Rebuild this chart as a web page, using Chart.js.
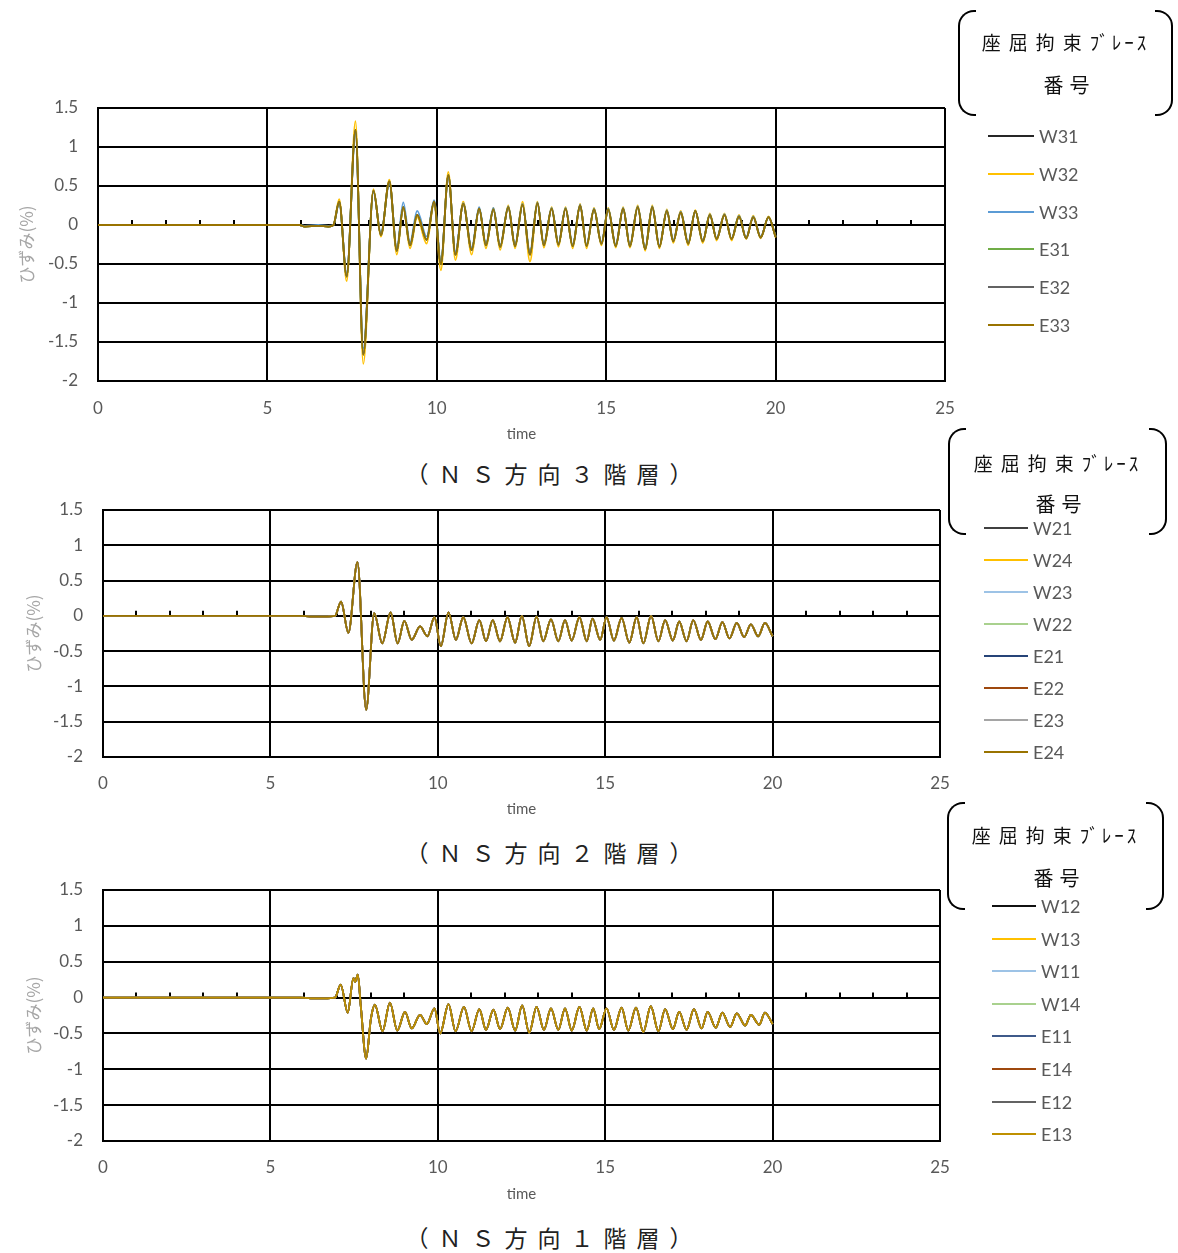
<!DOCTYPE html>
<html><head><meta charset="utf-8">
<script src="https://cdn.jsdelivr.net/npm/chart.js@4.4.1/dist/chart.umd.min.js"></script>
<style>
html,body{margin:0;padding:0;background:#fff;}
body{width:1178px;height:1253px;position:relative;overflow:hidden;font-family:Lato,'Noto Sans CJK JP',sans-serif;}
canvas{position:absolute;left:0;}
.brL,.brR{position:absolute;box-sizing:border-box;border:2px solid #000;}
.brL{border-right:none;border-radius:16px 0 0 16px;}
.brR{border-left:none;border-radius:0 16px 16px 0;}
.bt{position:absolute;text-align:center;font-family:'Noto Sans CJK JP';color:#111;white-space:nowrap;}
.sw{position:absolute;height:2px;}
.lt{position:absolute;font-family:Lato,sans-serif;font-size:18px;line-height:22px;color:#595959;white-space:nowrap;}
.cap{position:absolute;left:0;width:1108px;text-align:center;font-family:'Noto Sans CJK JP';font-size:23px;line-height:30px;letter-spacing:10px;color:#222;white-space:nowrap;}
</style></head><body>
<canvas id="c3"></canvas>
<canvas id="c2"></canvas>
<canvas id="c1"></canvas>
<div id="overlay"></div>
<script>
// ---------------- DATA ----------------
const xTickStep = 5;
const minorTickTimes = [1,2,3,4,6,7,8,9,11,12,13,14,16,17,18,19,21,22,23,24];

// NS 3F (3階層)
const time3F = [0,5.95,6.1,6.5,6.8,6.95,7.12,7.34,7.60,7.83,8.13,8.35,8.60,8.82,9.01,9.21,9.42,9.70,9.92,10.12,10.34,10.55,10.78,11.03,11.25,11.45,11.67,11.87,12.11,12.31,12.53,12.75,12.97,13.16,13.39,13.59,13.80,14.01,14.23,14.42,14.64,14.86,15.06,15.28,15.50,15.70,15.93,16.15,16.36,16.57,16.79,16.98,17.20,17.42,17.63,17.85,18.06,18.26,18.49,18.70,18.92,19.13,19.34,19.56,19.79,20.0];
const strain3F_main = [0,0,-0.02,-0.01,-0.02,0,
 0.30,-0.66,1.22,-1.66,0.44,-0.13,0.56,-0.33,0.23,-0.26,
 0.13,-0.19,0.30,-0.50,0.64,-0.38,0.27,-0.32,0.21,-0.26,
 0.20,-0.28,0.23,-0.27,0.26,-0.38,0.28,-0.26,0.21,-0.25,
 0.21,-0.27,0.25,-0.27,0.20,-0.24,0.20,-0.27,0.21,-0.27,
 0.23,-0.31,0.23,-0.28,0.18,-0.21,0.16,-0.24,0.18,-0.21,
 0.13,-0.18,0.13,-0.18,0.11,-0.17,0.10,-0.16,0.10,-0.15];
const strain3F_W32 = [0,0,-0.02,-0.01,-0.02,0,
 0.33,-0.72,1.33,-1.78,0.46,-0.15,0.58,-0.38,0.22,-0.30,
 0.10,-0.24,0.28,-0.58,0.68,-0.45,0.30,-0.38,0.22,-0.30,
 0.22,-0.32,0.25,-0.30,0.30,-0.47,0.30,-0.29,0.23,-0.28,
 0.23,-0.30,0.27,-0.30,0.22,-0.26,0.22,-0.29,0.23,-0.29,
 0.25,-0.33,0.25,-0.30,0.20,-0.23,0.18,-0.26,0.19,-0.23,
 0.15,-0.20,0.15,-0.20,0.13,-0.18,0.12,-0.17,0.11,-0.16];
const strain3F_W33 = [0,0,-0.01,0,-0.01,0,
 0.28,-0.62,1.17,-1.58,0.42,-0.10,0.53,-0.29,0.29,-0.22,
 0.18,-0.15,0.32,-0.46,0.61,-0.34,0.28,-0.29,0.23,-0.24,
 0.22,-0.26,0.24,-0.25,0.27,-0.34,0.29,-0.24,0.22,-0.23,
 0.22,-0.25,0.26,-0.25,0.21,-0.22,0.21,-0.25,0.22,-0.25,
 0.24,-0.29,0.24,-0.26,0.19,-0.19,0.17,-0.22,0.18,-0.20,
 0.14,-0.17,0.14,-0.17,0.12,-0.16,0.11,-0.15,0.10,-0.14];
const names3F = ['W31','W32','W33','E31','E32','E33'];
const colors3F = ['#262626','#FFC000','#5B9BD5','#70AD47','#636363','#997300'];

// NS 2F (2階層)
const time2F = [0,5.9,6.2,6.6,6.93,7.11,7.33,7.60,7.86,8.10,8.34,8.59,8.80,9.00,9.22,9.47,9.69,9.90,10.09,10.32,10.54,10.76,11.01,11.24,11.44,11.64,11.86,12.08,12.31,12.51,12.73,12.95,13.15,13.38,13.60,13.80,14.00,14.23,14.45,14.62,14.85,15.04,15.26,15.49,15.72,15.94,16.14,16.37,16.59,16.79,17.02,17.21,17.43,17.63,17.86,18.06,18.29,18.50,18.71,18.93,19.15,19.35,19.57,19.77,20.0];
const strain2F = [0,0,-0.01,-0.01,0,
 0.20,-0.24,0.76,-1.33,0.04,-0.39,0.05,-0.39,-0.07,-0.34,
 -0.15,-0.29,-0.02,-0.43,0.05,-0.34,-0.02,-0.39,-0.06,-0.36,
 -0.06,-0.36,-0.02,-0.38,0.0,-0.43,-0.01,-0.36,-0.05,-0.36,
 -0.06,-0.35,-0.02,-0.36,-0.04,-0.34,-0.02,-0.35,-0.03,-0.38,
 -0.02,-0.39,0.0,-0.36,-0.06,-0.35,-0.08,-0.36,-0.06,-0.34,
 -0.08,-0.33,-0.09,-0.32,-0.10,-0.30,-0.12,-0.29,-0.10,-0.29];
const names2F = ['W21','W24','W23','W22','E21','E22','E23','E24'];
const colors2F = ['#404040','#FFC000','#9DC3E6','#A9D18E','#264478','#9E480E','#A5A5A5','#997300'];

// NS 1F (1階層)
const time1F = [0,5.9,6.2,6.6,6.93,7.10,7.31,7.48,7.53,7.61,7.70,7.86,8.00,8.12,8.35,8.57,8.79,9.02,9.22,9.47,9.67,9.90,10.07,10.32,10.53,10.78,11.01,11.24,11.44,11.66,11.86,12.09,12.31,12.52,12.73,12.95,13.17,13.38,13.60,13.80,14.00,14.23,14.45,14.64,14.82,15.04,15.26,15.49,15.69,15.92,16.14,16.36,16.59,16.79,17.02,17.21,17.43,17.65,17.88,18.06,18.30,18.50,18.73,18.93,19.18,19.35,19.60,19.77,20.0];
const strain1F = [0,0,-0.01,-0.01,0,
 0.18,-0.21,0.27,0.22,0.32,-0.12,-0.85,-0.30,-0.10,
 -0.47,-0.07,-0.46,-0.20,-0.43,-0.24,-0.37,-0.15,-0.50,-0.09,
 -0.47,-0.13,-0.47,-0.16,-0.45,-0.17,-0.44,-0.14,-0.46,-0.11,
 -0.49,-0.13,-0.45,-0.15,-0.45,-0.15,-0.46,-0.13,-0.46,-0.15,
 -0.44,-0.15,-0.45,-0.14,-0.46,-0.14,-0.48,-0.12,-0.47,-0.16,
 -0.44,-0.20,-0.45,-0.16,-0.43,-0.20,-0.42,-0.21,-0.41,-0.22,
 -0.39,-0.24,-0.38,-0.21,-0.37];
const names1F = ['W12','W13','W11','W14','E11','E14','E12','E13'];
const colors1F = ['#111111','#FFC000','#9DC3E6','#A9D18E','#3F5A8A','#9E480E','#636363','#BF9000'];

const legendTitleA = '座屈拘束';
const legendTitleB = 'ﾌﾞﾚｰｽ';
const legendTitle2 = '番号';
const captions = ['（ＮＳ方向３階層）','（ＮＳ方向２階層）','（ＮＳ方向１階層）'];
const xTitle = 'time';
const yTitle = 'ひずみ(%)';

// ---------------- LAYOUT ----------------
const panels = [
 {id:'c3', times:time3F, names:names3F, colors:colors3F,
  values:[strain3F_main,strain3F_W32,strain3F_W33,strain3F_main,strain3F_main,strain3F_main],
  plotTop:108, plotBottom:381, plotLeft:98, plotRight:945, xLabelY:408, xTitleY:434, yTitleX:26,
  br:{l:958,t:10,w:215,h:106,t1:42,t2:85}, leg:{lx:988,tx:1039,y0:136,dy:37.8}, capY:473, cap:captions[0]},
 {id:'c2', times:time2F, names:names2F, colors:colors2F,
  values:names2F.map(()=>strain2F),
  plotTop:510, plotBottom:757, plotLeft:103, plotRight:940, xLabelY:783, xTitleY:809, yTitleX:33,
  br:{l:948,t:428,w:219,h:107,t1:463,t2:504}, leg:{lx:984,tx:1033,y0:528,dy:32.0}, capY:852, cap:captions[1]},
 {id:'c1', times:time1F, names:names1F, colors:colors1F,
  values:names1F.map(()=>strain1F),
  plotTop:890, plotBottom:1141, plotLeft:103, plotRight:940, xLabelY:1167, xTitleY:1194, yTitleX:33,
  br:{l:947,t:802,w:217,h:108,t1:835,t2:878}, leg:{lx:992,tx:1041,y0:906,dy:32.6}, capY:1237, cap:captions[2]}
];

const minorTickPlugin = {
  id:'minorTicks',
  beforeDatasetsDraw(chart){
    const {ctx, scales:{x,y}} = chart;
    const y0 = y.getPixelForValue(0);
    ctx.save();
    ctx.strokeStyle = '#000'; ctx.lineWidth = 2;
    minorTickTimes.forEach(t => {
      const px = Math.round(x.getPixelForValue(t));
      ctx.beginPath(); ctx.moveTo(px, y0); ctx.lineTo(px, y0 - 5); ctx.stroke();
    });
    ctx.restore();
  }
};

const CW = 960;
panels.forEach(P => {
  const cv = document.getElementById(P.id);
  const top = P.plotTop - 20;
  const bottom = P.xTitleY + 13;
  cv.width = CW; cv.height = bottom - top;
  cv.style.top = top + 'px';
  cv.style.width = CW + 'px'; cv.style.height = (bottom - top) + 'px';
  const n = P.names.length;
  const datasets = P.names.map((nm, i) => ({
    label: nm,
    data: P.times.map((t, k) => ({x: t, y: P.values[i][k]})),
    borderColor: P.colors[i],
    borderWidth: 1.8,
    pointRadius: 0,
    fill: false,
    tension: 0.4,
    cubicInterpolationMode: 'monotone',
    order: n - i
  }));
  new Chart(cv, {
    type: 'line',
    data: {datasets},
    plugins: [minorTickPlugin],
    options: {
      responsive: false, animation: false, devicePixelRatio: 1,
      layout: {padding: {top: 20, right: CW - P.plotRight, bottom: 0, left: 0}},
      plugins: {legend: {display: false}, tooltip: {enabled: false}},
      scales: {
        x: {
          type: 'linear', min: 0, max: 25,
          afterFit(s){ s.height = bottom - P.plotBottom; s.paddingLeft = 0; s.paddingRight = 0; },
          ticks: {stepSize: xTickStep, padding: P.xLabelY - P.plotBottom - 10, color: '#595959',
                  font: {family: 'Lato', size: 17}, maxRotation: 0, autoSkip: false},
          grid: {color: '#000', lineWidth: 2, drawTicks: false},
          border: {color: '#000', width: 2},
          title: {display: true, text: xTitle, color: '#595959', font: {family: 'Lato', size: 15},
                  padding: {top: 0, bottom: 4}}
        },
        y: {
          type: 'linear', min: -2, max: 1.5,
          afterFit(s){ s.width = P.plotLeft; s.paddingTop = 0; s.paddingBottom = 0; },
          ticks: {stepSize: 0.5, padding: 20, color: '#595959', font: {family: 'Lato', size: 17},
                  callback: v => String(Math.round(v * 10) / 10)},
          grid: {color: '#000', lineWidth: 2, drawTicks: false},
          border: {color: '#000', width: 2},
          title: {display: true, text: yTitle, color: '#A6A6A6', font: {family: 'Noto Sans CJK JP', size: 17},
                  padding: {top: P.yTitleX - 10, bottom: 0}}
        }
      }
    }
  });

  // legend (HTML)
  const ov = document.getElementById('overlay');
  const b = P.br;
  const arm = 18;
  ov.insertAdjacentHTML('beforeend',
    `<div class="brL" style="left:${b.l}px;top:${b.t}px;width:${arm}px;height:${b.h}px"></div>` +
    `<div class="brR" style="left:${b.l + b.w - arm}px;top:${b.t}px;width:${arm}px;height:${b.h}px"></div>` +
    `<div class="bt" style="left:${b.l}px;width:${b.w}px;top:${b.t1 - 15}px;line-height:30px;font-size:19px">` +
      `<span style="letter-spacing:8px">${legendTitleA}</span><span style="letter-spacing:3px">${legendTitleB}</span></div>` +
    `<div class="bt" style="left:${b.l + 4}px;width:${b.w}px;top:${b.t2 - 15}px;line-height:30px;font-size:20px;letter-spacing:6px">${legendTitle2}</div>`);
  P.names.forEach((nm, i) => {
    const y = Math.round(P.leg.y0 + i * P.leg.dy);
    ov.insertAdjacentHTML('beforeend',
      `<div class="sw" style="left:${P.leg.lx}px;top:${y - 1}px;width:${P.leg.tx - P.leg.lx - 5}px;background:${P.colors[i]}"></div>` +
      `<div class="lt" style="left:${P.leg.tx}px;top:${y - 11}px">${nm}</div>`);
  });
  ov.insertAdjacentHTML('beforeend', `<div class="cap" style="top:${P.capY - 15}px">${P.cap}</div>`);
});
</script>
</body></html>
